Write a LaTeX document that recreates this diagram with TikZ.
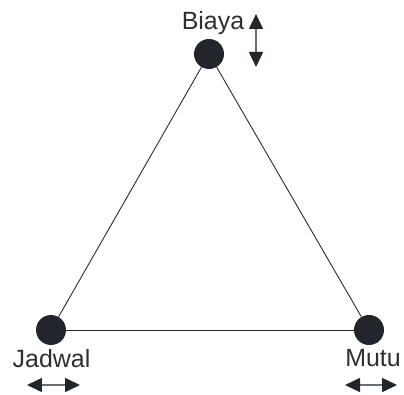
\documentclass[tikz,border=0pt]{standalone}
\usepackage{fontspec}
\setmainfont{Liberation Sans}
\usetikzlibrary{arrows.meta}

\definecolor{dotgray}{HTML}{22262C}
\definecolor{txtgray}{HTML}{2E2E2E}
\definecolor{shaftgray}{HTML}{6A6E73}

\tikzset{
    corner/.style={circle, fill=dotgray, inner sep=0pt, minimum size=0.6cm},
    side/.style={draw=dotgray, line width=0.5pt},
    caption/.style={anchor=base, text=txtgray, inner sep=0pt, font=\fontsize{14.2}{16}\selectfont},
    moveboth/.style={draw=shaftgray, line width=0.9pt,
        {Triangle[length=0.3cm,width=0.28cm,color=dotgray,fill=dotgray]}-{Triangle[length=0.3cm,width=0.28cm,color=dotgray,fill=dotgray]}}
}

\begin{document}
\begin{tikzpicture}[x=0.02cm,y=-0.02cm]
    \useasboundingbox (0,0) rectangle (404,394);

    % Corners of the triangle
    \node[corner] (biaya) at (209,54) {};
    \node[corner] (jadwal) at (51,330) {};
    \node[corner] (mutu) at (369,330) {};

    % Sides
    \draw[side] (biaya) -- (jadwal);
    \draw[side] (jadwal) -- (mutu);
    \draw[side] (mutu) -- (biaya);

    % Labels
    \node[caption] (biayatext) at (213,30) {Biaya};
    \node[caption] (jadwaltext) at (51.5,367) {Jadwal};
    \node[caption] (mututext) at (373,366) {Mutu};

    % Arrows both ways
    \coordinate (biayaup) at (256,14);
    \coordinate (biayadown) at (256,67);
    \draw[moveboth] (biayaup) -- (biayadown);

    \coordinate (jadwalleft) at (27,385);
    \coordinate (jadwalright) at (80,385);
    \draw[moveboth] (jadwalleft) -- (jadwalright);

    \coordinate (mutuleft) at (345,385);
    \coordinate (muturight) at (397,385);
    \draw[moveboth] (mutuleft) -- (muturight);
\end{tikzpicture}
\end{document}
